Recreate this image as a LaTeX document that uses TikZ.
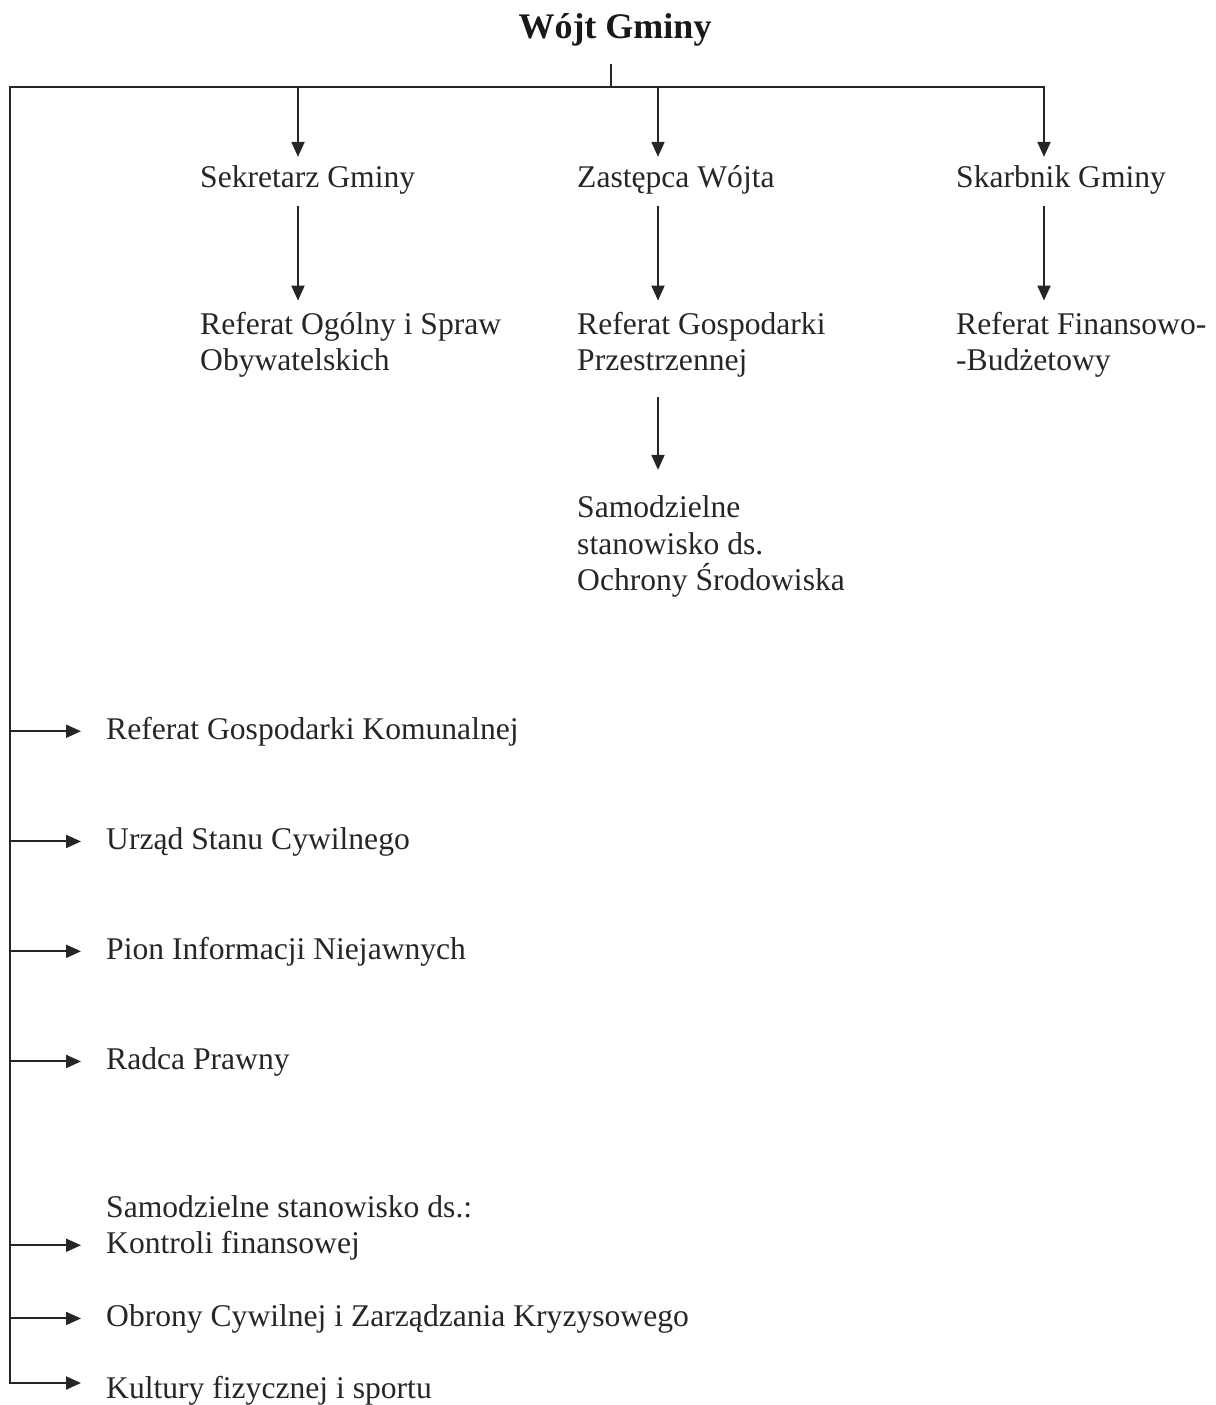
\documentclass[tikz,border=0pt]{standalone}
\usepackage{fontspec}
\setmainfont{Liberation Serif}
\usetikzlibrary{arrows.meta}
\begin{document}
\begin{tikzpicture}[x=1pt,y=-1pt,
  ln/.style={line width=2pt, draw=black!85},
  arr/.style={ln, -{Triangle[length=15pt,width=13pt]}},
  lbl/.style={anchor=base west, inner sep=0pt, font=\fontsize{31.6}{36}\selectfont, text=black!85},
  ttl/.style={anchor=base, inner sep=0pt, font=\fontsize{36}{40}\selectfont\bfseries, text=black!90}]
\useasboundingbox (0,0) rectangle (1215,1405);
% title
\node[ttl] (wojt) at (615,39) {Wójt Gminy};
% level 1
\node[lbl] (sek) at (200,187) {Sekretarz Gminy};
\node[lbl] (zast) at (577,187) {Zastępca Wójta};
\node[lbl] (skarb) at (956,187) {Skarbnik Gminy};
% level 2
\node[lbl] (rog) at (200,334) {Referat Ogólny i Spraw};
\node[lbl] (rog2) at (200,370) {Obywatelskich};
\node[lbl] (rgp) at (577,334) {Referat Gospodarki};
\node[lbl] (rgp2) at (577,370) {Przestrzennej};
\node[lbl] (rfb) at (956,334) {Referat Finansowo-};
\node[lbl] (rfb2) at (956,370) {-Budżetowy};
% level 3
\node[lbl] (sos) at (577,517) {Samodzielne};
\node[lbl] (sos2) at (577,554) {stanowisko ds.};
\node[lbl] (sos3) at (577,590) {Ochrony Środowiska};
% left column
\node[lbl] (rgk) at (106,739) {Referat Gospodarki Komunalnej};
\node[lbl] (usc) at (106,849) {Urząd Stanu Cywilnego};
\node[lbl] (pin) at (106,959) {Pion Informacji Niejawnych};
\node[lbl] (rp) at (106,1069) {Radca Prawny};
\node[lbl] (ssh) at (106,1217) {Samodzielne stanowisko ds.:};
\node[lbl] (kf) at (106,1253) {Kontroli finansowej};
\node[lbl] (oc) at (106,1326) {Obrony Cywilnej i Zarządzania Kryzysowego};
\node[lbl] (kfs) at (106,1398) {Kultury fizycznej i sportu};
% junctions
\coordinate (wt) at (611,64);
\coordinate (jt) at (611,87);
\coordinate (jl) at (10,87);
\coordinate (j1) at (298,87);
\coordinate (j2) at (658,87);
\coordinate (jr) at (1044,87);
\coordinate (jb) at (10,1383);
% trunk
\draw[ln] (wt) -- (jt);
\draw[ln, line cap=rect] (jl) -- (jr);
\draw[ln, line cap=rect] (jl) -- (jb);
% level 1 arrows
\draw[arr, shorten >=8pt] (j1) -- (j1 |- sek.north);
\draw[arr, shorten >=8pt] (j2) -- (j2 |- zast.north);
\draw[arr, shorten >=8pt] (jr) -- (jr |- skarb.north);
% level 2 arrows
\draw[arr, shorten <=12pt, shorten >=11pt] (j1 |- sek.south) -- (j1 |- rog.north);
\draw[arr, shorten <=12pt, shorten >=11pt] (j2 |- zast.south) -- (j2 |- rgp.north);
\draw[arr, shorten <=12pt, shorten >=11pt] (jr |- skarb.south) -- (jr |- rfb.north);
% level 3 arrow
\draw[arr, shorten <=20pt, shorten >=25pt] (j2 |- rgp2.south) -- (j2 |- sos.north);
% left arrows
\foreach \n in {rgk,usc,pin,rp,kf,oc}{
  \draw[arr, shorten >=25pt] (jl |- \n.west) -- (\n.west);
}
\draw[arr, shorten >=25pt] (jb) -- (jb -| kfs.west);
\end{tikzpicture}
\end{document}
